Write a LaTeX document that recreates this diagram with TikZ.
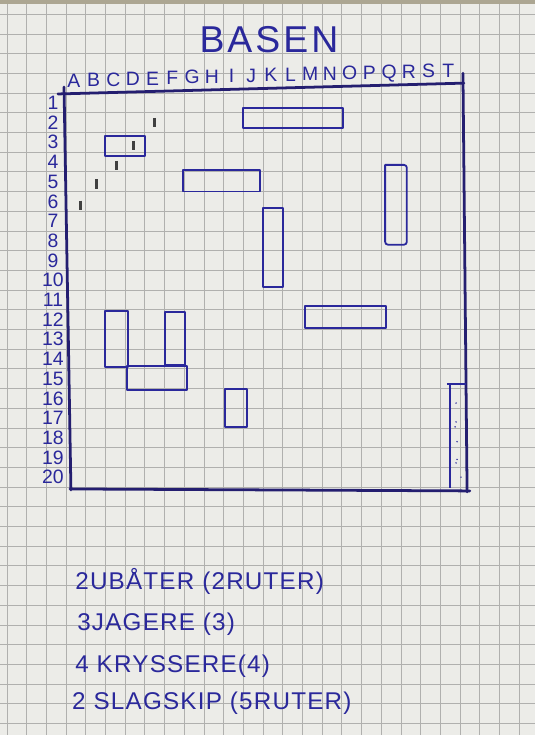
\documentclass[tikz,border=0pt]{standalone}
\usepackage{fontspec}
\setmainfont{Liberation Sans}
\definecolor{paper}{RGB}{236,236,232}
\definecolor{papergrid}{RGB}{176,176,174}
\definecolor{photoedge}{RGB}{172,166,146}
\definecolor{ink}{RGB}{42,40,155}
\definecolor{darkink}{RGB}{36,30,112}
\definecolor{pencil}{RGB}{64,64,64}
\tikzset{
  ship/.style={draw=ink, line width=1.3pt, line join=round},
  board/.style={draw=darkink, line width=2pt, line cap=round},
  hand/.style={text=ink, inner sep=0pt},
  listtext/.style={hand, anchor=base west,
    font=\fontsize{17.5}{20}\selectfont\addfontfeature{LetterSpace=5}},
  shot/.style={draw=pencil, line width=2.2pt},
}
\begin{document}
\begin{tikzpicture}[x=0.5cm,y=-0.5cm]
% squared paper
\fill[paper] (-3.35,-4.72) rectangle (23.81,32.59);
\useasboundingbox (-3.35,-4.72) rectangle (23.81,32.59);
\fill[photoedge] (-3.35,-4.72) rectangle (23.81,-4.5);
\foreach \x in {-3,...,23}
    \draw[papergrid, line width=0.5pt] (\x,-4.5) -- (\x,32.59);
\foreach \y in {-4,...,32}
    \draw[papergrid, line width=0.5pt] (-3.35,\y) -- (23.81,\y);

% heading and labels
\node[hand, anchor=base, font=\fontsize{27}{30}\selectfont\addfontfeature{LetterSpace=8}]
    (title) at (10.3,-2.08) {BASEN};
\foreach \c [count=\i from 0] in {A,...,T}
    \node[hand, anchor=base, font=\fontsize{14}{17}\selectfont]
        (col\c) at ({\i+0.4},{-0.3-0.026*\i}) {\c};
\foreach \r in {1,...,20}
    \node[hand, font=\fontsize{14}{16}\selectfont] (row\r) at (-0.66,\r-0.5) {\r};

% board frame
\draw[board] (-0.41,0.05) -- (20.2,-0.5);
\draw[board] (-0.1,-0.3) -- (0.25,20.15);
\draw[board] (0.2,20.1) -- (20.5,20.2);
\draw[board] (20.15,-1.0) -- (20.36,20.25);

% ships
\draw[ship] (8.98,0.76) rectangle (14.06,1.78);
\draw[ship] (2.0,2.18) rectangle (4.0,3.2);
\draw[ship] (5.94,3.9) rectangle (9.85,5.0);
\draw[ship] (10,5.84) rectangle (11,9.85);
\draw[ship, rounded corners=2pt] (16.2,3.65) -- (16.2,7.7) -- (17.3,7.7)
    -- (17.3,3.65) [sharp corners] -- cycle;
\draw[ship] (12.13,10.8) rectangle (16.24,11.93);
\draw[ship] (2.0,11.07) rectangle (3.15,13.9);
\draw[ship] (5.03,11.1) rectangle (6.04,13.8);
\draw[ship] (3.1,13.86) rectangle (6.14,15.08);
\draw[ship] (8.07,15.03) rectangle (9.19,16.95);
\draw[ship] (19.5,20.05) -- (19.5,14.77);
\draw[ship] (19.34,14.77) -- (20.3,14.77);
\foreach \x/\y in {19.8/15.74, 19.8/16.7, 19.75/16.95, 19.85/17.7,
                   19.85/18.6, 19.8/18.78, 20.05/19.5}
    \fill[ink] (\x,\y) circle (0.6pt);

% pencil shots
\foreach \x/\y in {4.47/1.5, 3.45/2.67, 2.54/3.69, 1.56/4.62, 0.75/5.7}
    \draw[shot] (\x,\y-0.24) -- (\x,\y+0.24);

% fleet list
\node[listtext] (subs) at (0.46,25.2) {2UBÅTER (2RUTER)};
\node[listtext] (destroyers) at (0.56,27.26) {3JAGERE (3)};
\node[listtext] (cruisers) at (0.46,29.44) {4 KRYSSERE(4)};
\node[listtext] (battleships) at (0.3,31.3) {2 SLAGSKIP (5RUTER)};
\end{tikzpicture}
\end{document}
